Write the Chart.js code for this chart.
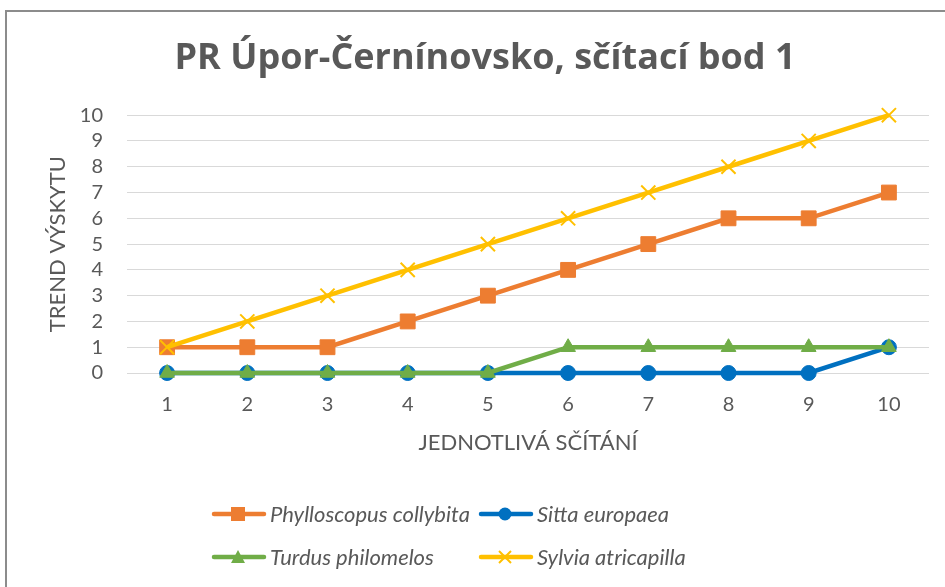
<!DOCTYPE html>
<html>
<head>
<meta charset="utf-8">
<script src="https://cdn.jsdelivr.net/npm/chart.js@4/dist/chart.umd.min.js"></script>
<style>
body{margin:0;background:#fff;overflow:hidden}
#wrap{position:relative;width:945px;height:587px}
#frame{position:absolute;left:5px;top:10px;width:980px;height:620px;border-left:2px solid #8c8c8c;border-top:2px solid #8c8c8c;pointer-events:none}
#legend{position:absolute;left:211px;top:492px;display:grid;grid-template-columns:267px auto;grid-auto-rows:43px}
.item{display:flex;align-items:center;font:italic 22px Lato;color:#595959;white-space:nowrap}
.item svg{margin-right:3px}
</style>
</head>
<body>
<div id="wrap">
<canvas id="chart" width="945" height="587"></canvas>
<div id="frame"></div>
<div id="legend"></div>
</div>
<script>
const counts = ["1", "2", "3", "4", "5", "6", "7", "8", "9", "10"];

const phylloscopus = [1, 1, 1, 2, 3, 4, 5, 6, 6, 7];
const sitta = [0, 0, 0, 0, 0, 0, 0, 0, 0, 1];
const turdus = [0, 0, 0, 0, 0, 1, 1, 1, 1, 1];
const sylvia = [1, 2, 3, 4, 5, 6, 7, 8, 9, 10];

const speciesNames = ["Phylloscopus collybita", "Sitta europaea", "Turdus philomelos", "Sylvia atricapilla"];
const colors = ["#ED7D31", "#0070C0", "#70AD47", "#FFC000"];

const textColor = "#595959";

function series(i, values, style, radius, bw, order) {
    return {
        label: speciesNames[i],
        data: values,
        borderColor: colors[i],
        backgroundColor: colors[i],
        borderWidth: 4.5,
        pointStyle: style,
        pointRadius: radius,
        pointHoverRadius: radius,
        pointBorderWidth: bw,
        pointBorderColor: colors[i],
        pointBackgroundColor: colors[i],
        tension: 0,
        clip: false,
        order: order
    };
}

const ctx = document.getElementById("chart").getContext("2d");

const chart = new Chart(ctx, {
    type: "line",
    data: {
        labels: counts,
        datasets: [
            series(0, phylloscopus, "rect", 10.5, 1, 4),
            series(1, sitta, "circle", 7.5, 1, 3),
            series(2, turdus, "triangle", 8.5, 1, 2),
            series(3, sylvia, "crossRot", 10, 2, 1)
        ]
    },
    options: {
        responsive: false,
        animation: false,
        layout: {
            padding: { top: 10, left: 41, right: 16, bottom: 127 }
        },
        plugins: {
            legend: { display: false },
            tooltip: { enabled: false },
            title: {
                display: true,
                text: "PR Úpor-Černínovsko, sčítací bod 1",
                color: textColor,
                font: { family: "Open Sans", size: 36, weight: "bold" },
                padding: { top: 27, bottom: 35 }
            }
        },
        scales: {
            x: {
                offset: true,
                grid: { display: false, drawTicks: false },
                border: { display: false },
                ticks: {
                    autoSkip: false,
                    maxRotation: 0,
                    color: textColor,
                    padding: 20,
                    font: { family: "Lato", size: 20 }
                },
                title: {
                    display: true,
                    text: "JEDNOTLIVÁ SČÍTÁNÍ",
                    color: textColor,
                    font: { family: "Lato", size: 22 }
                },
                afterFit: function (scale) { scale.height = 87; }
            },
            y: {
                min: 0,
                max: 10,
                ticks: {
                    stepSize: 1,
                    autoSkip: false,
                    color: textColor,
                    padding: 24,
                    font: { family: "Lato", size: 20 }
                },
                grid: { color: "#d9d9d9", lineWidth: 1, drawTicks: false },
                border: { display: false },
                title: {
                    display: true,
                    text: "TREND VÝSKYTU",
                    color: textColor,
                    font: { family: "Lato", size: 22 }
                },
                afterFit: function (scale) { scale.width = 86; }
            }
        }
    }
});

// legend as html, 2 columns like the original
function markerSvg(ds) {
    const c = ds.borderColor;
    let m = "";
    if (ds.pointStyle === "rect") {
        m = '<rect x="20" y="3" width="14" height="14" fill="' + c + '"/>';
    } else if (ds.pointStyle === "circle") {
        m = '<circle cx="27" cy="10" r="6.5" fill="' + c + '"/>';
    } else if (ds.pointStyle === "triangle") {
        m = '<polygon points="27,3 34,16 20,16" fill="' + c + '"/>';
    } else {
        m = '<path d="M21 4 L33 16 M33 4 L21 16" stroke="' + c + '" stroke-width="2"/>';
    }
    return '<svg width="56" height="20"><line x1="3" y1="10" x2="53" y2="10" stroke="' + c +
        '" stroke-width="4.5" stroke-linecap="round"/>' + m + '</svg>';
}

const legend = document.getElementById("legend");
chart.data.datasets.forEach(function (ds) {
    const div = document.createElement("div");
    div.className = "item";
    div.innerHTML = markerSvg(ds) + "<span>" + ds.label + "</span>";
    legend.appendChild(div);
});
</script>
</body>
</html>
